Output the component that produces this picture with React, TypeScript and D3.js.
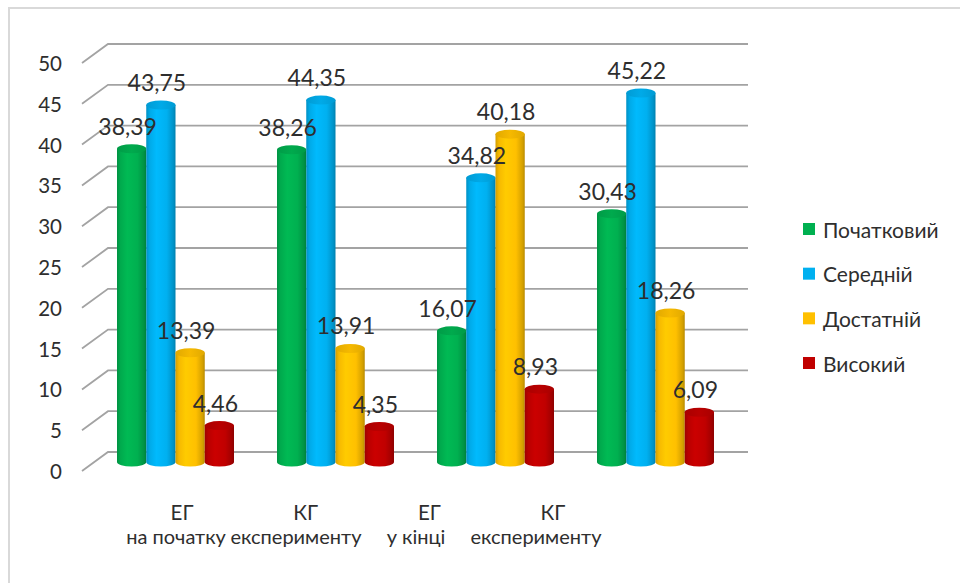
import React from "react";
import * as d3 from "d3";

const categories = ["c1", "c2", "c3", "c4"];
const catLine1 = ["ЕГ", "КГ", "ЕГ", "КГ"];
const catLine2 = ["на початку", "експерименту", "у кінці", "експерименту"];
const seriesNames = ["Початковий", "Середній", "Достатній", "Високий"];
const seriesColors = ["#00b050", "#00b0f0", "#ffc000", "#c00000"];
const values: number[][] = [
  [38.39, 43.75, 13.39, 4.46],
  [38.26, 44.35, 13.91, 4.35],
  [16.07, 34.82, 40.18, 8.93],
  [30.43, 45.22, 18.26, 6.09],
];
const yTicks = [0, 5, 10, 15, 20, 25, 30, 35, 40, 45, 50];

const W = 960;
const H = 583;
const FONT = "Lato, 'Open Sans', sans-serif";
const TEXT = "#2e2e2e";

export default function App() {
  const yBar = d3.scaleLinear().domain([0, 50]).range([462, 54]);
  const yBack = d3.scaleLinear().domain([0, 50]).range([452, 44]);
  const yFront = d3.scaleLinear().domain([0, 50]).range([471, 63]);
  const x0 = d3
    .scaleBand<string>()
    .domain(categories)
    .range([95.5, 735.5])
    .paddingInner(0.2688)
    .paddingOuter(0.1344);
  const x1 = d3
    .scaleBand<string>()
    .domain(seriesNames)
    .range([0, x0.bandwidth()])
    .padding(0);
  const legendY = d3.scalePoint<string>().domain(seriesNames).range([229, 363]);
  const lab1 = d3.scalePoint<string>().domain(categories).range([182, 553]);
  const lab2 = d3.scalePoint<string>().domain(categories).range([176, 536]);

  const backX0 = 108;
  const frontX0 = 82;
  const gridX1 = 748;
  const ry = 4.5;

  const grads = seriesColors.map((c, i) => {
    const base = d3.color(c)!;
    return {
      id: `g${i}`,
      topId: `t${i}`,
      stops: [
        [0, base.darker(0.55).formatHex()],
        [0.12, base.darker(0.1).formatHex()],
        [0.35, base.brighter(0.15).formatHex()],
        [0.7, base.formatHex()],
        [0.92, base.darker(0.5).formatHex()],
        [1, base.darker(0.9).formatHex()],
      ] as [number, string][],
      top: base.darker(0.35).formatHex(),
      topLight: base.darker(0.1).formatHex(),
    };
  });

  return (
    <svg
      width={W}
      height={H}
      style={{ position: "absolute", left: 0, top: 0, background: "#fff" }}
    >
      <defs>
        {grads.map((g) => (
          <linearGradient key={g.id} id={g.id} x1="0" x2="1" y1="0" y2="0">
            {g.stops.map(([o, c], k) => (
              <stop key={k} offset={o} stopColor={c} />
            ))}
          </linearGradient>
        ))}
        {grads.map((g) => (
          <linearGradient key={g.topId} id={g.topId} x1="0" x2="1" y1="0" y2="0">
            <stop offset={0} stopColor={g.top} />
            <stop offset={0.5} stopColor={g.topLight} />
            <stop offset={1} stopColor={g.top} />
          </linearGradient>
        ))}
      </defs>
      <rect x={9} y={8} width={W} height={H} fill="#fff" stroke="#d9d9d9" strokeWidth={2} />

      {/* gridlines */}
      {yTicks.map((t) => (
        <path
          key={t}
          d={`M${frontX0},${yFront(t)} L${backX0},${yBack(t)} L${gridX1},${yBack(t)}`}
          fill="none"
          stroke="#a3a3a3"
          strokeWidth={1.8}
        />
      ))}

      {/* y axis labels */}
      {yTicks.map((t) => (
        <text
          key={t}
          x={62}
          y={yFront(t)}
          textAnchor="end"
          dominantBaseline="central"
          fontFamily={FONT}
          fontSize={20.5}
          fill={TEXT}
        >
          {t}
        </text>
      ))}

      {/* bars */}
      {categories.map((c, ci) =>
        seriesNames.map((s, si) => {
          const v = values[ci][si];
          const bx = x0(c)! + x1(s)!;
          const bw = x1.bandwidth();
          const yT = yBar(v);
          const yB = yBar(0);
          const rx = bw / 2;
          return (
            <g key={`${c}-${s}`}>
              <path
                d={`M${bx},${yT} L${bx},${yB} A${rx},${ry} 0 0 0 ${bx + bw},${yB} L${bx + bw},${yT} Z`}
                fill={`url(#g${si})`}
              />
              <ellipse cx={bx + rx} cy={yT} rx={rx} ry={ry} fill={`url(#t${si})`} />
            </g>
          );
        })
      )}

      {/* data labels */}
      {categories.map((c, ci) =>
        seriesNames.map((s, si) => {
          const v = values[ci][si];
          const cx = x0(c)! + x1(s)! + x1.bandwidth() / 2 - 4;
          return (
            <text
              key={`l-${c}-${s}`}
              x={cx}
              y={yBar(v) - 23}
              textAnchor="middle"
              dominantBaseline="central"
              fontFamily={FONT}
              fontSize={23}
              fill={TEXT}
            >
              {v.toFixed(2).replace(".", ",")}
            </text>
          );
        })
      )}

      {/* category labels */}
      {categories.map((c, ci) => (
        <g key={`cat-${c}`}>
          <text
            x={lab1(c)}
            y={512}
            textAnchor="middle"
            dominantBaseline="central"
            fontFamily={FONT}
            fontSize={20.5}
            fill={TEXT}
          >
            {catLine1[ci]}
          </text>
          <text
            x={lab2(c)}
            y={536}
            textAnchor="middle"
            dominantBaseline="central"
            fontFamily={FONT}
            fontSize={20}
            fill={TEXT}
          >
            {catLine2[ci]}
          </text>
        </g>
      ))}

      {/* legend */}
      {seriesNames.map((s, si) => (
        <g key={`lg-${s}`}>
          <rect x={803} y={legendY(s)! - 6} width={12} height={12} fill={seriesColors[si]} />
          <text
            x={823}
            y={legendY(s)}
            dominantBaseline="central"
            fontFamily={FONT}
            fontSize={21}
            fill={TEXT}
          >
            {s}
          </text>
        </g>
      ))}
    </svg>
  );
}
